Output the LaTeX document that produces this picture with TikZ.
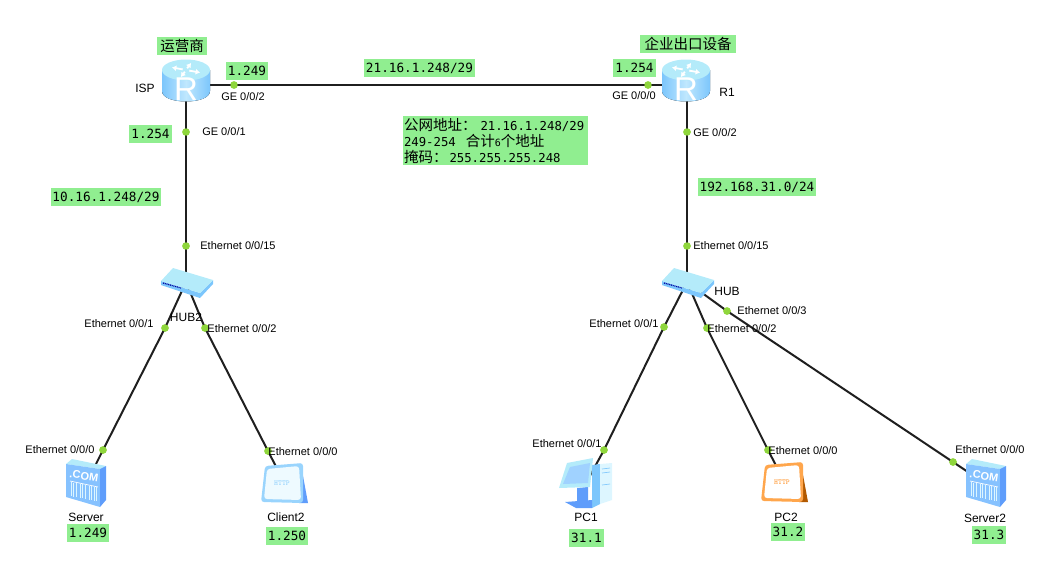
\documentclass[tikz,border=0pt]{standalone}
\usepackage{fontspec}
\setmainfont{Liberation Sans}
\newfontfamily\cjk{Noto Sans CJK SC}
\newfontfamily\tagmono{DejaVu Sans Mono}
\usetikzlibrary{arrows.meta,positioning}
\definecolor{tagGreen}{HTML}{90EE90}
\definecolor{dotGreen}{HTML}{8FD63C}
\definecolor{iconSide}{HTML}{7CC6FC}
\definecolor{iconPale}{HTML}{DDF6FF}
\definecolor{iconTop}{HTML}{B4EBFA}
\definecolor{iconFront}{HTML}{86C2FF}
\definecolor{iconDeep}{HTML}{5F9DFB}
\newcommand{\cn}[1]{{\cjk\fontsize{14.5}{16}\selectfont #1}}
\lineskiplimit=-20pt
\tikzset{
	link/.style={line width=2pt, draw=black!88},
	devpoint/.style={inner sep=0pt, minimum size=0pt},
	portdot/.style={circle, fill=dotGreen, inner sep=0pt, minimum size=7.5pt},
	portlabel/.style={font=\fontsize{11}{12}\selectfont, inner sep=0pt, text=black, yshift=-0.7pt},
	devlabel/.style={font=\fontsize{12}{13}\selectfont, inner sep=0pt, text=black},
	iptag/.style={fill=tagGreen, inner sep=0pt, minimum height=18pt, font=\tagmono\fontsize{12.7}{14}\selectfont},
	pics/routericon/.style={code={
		\fill[left color=iconSide, right color=iconSide, middle color=iconPale!70!iconSide] (-24,-11) -- (-24,10) .. controls (-24,24) and (24,24) .. (24,10) -- (24,-11) -- cycle;
		\fill[fill=iconTop] (0,-11) ellipse[x radius=24, y radius=10.5];
		\foreach \a in {20,110,200,290}
			\draw[white, line width=1.8pt, -{Latex[length=4.5pt,width=6pt]}] ({3.5*cos(\a)},{-11+1.8*sin(\a)}) -- ({15*cos(\a)},{-11+7.5*sin(\a)});
		\node[text=white, font=\fontsize{33}{33}\selectfont, inner sep=0pt] (R) at (0,8) {R};
	}},
	pics/hubicon/.style={code={
		\fill[fill=iconSide] (-25,-1) -- (14,11) -- (27,-2) -- (27,2) -- (14,16) -- (-25,3) -- cycle;
		\fill[fill=iconTop] (-25,-1) -- (-13,-14) -- (27,-2) -- (14,11) -- cycle;
		\draw[blue!60!black, line width=1.2pt, dash pattern=on 1pt off 0.8pt] (-23,1) -- (-5,6);
	}},
	pics/servericon/.style={code={
		\fill[fill=iconTop] (-20,-20) -- (-14,-25) -- (20,-18) -- (14,-15) -- cycle;
		\fill[fill=iconFront] (-20,-20) -- (14,-15) -- (14,23) -- (-20,13) -- cycle;
		\fill[fill=iconDeep] (14,-15) -- (20,-18) -- (20,16) -- (14,23) -- cycle;
		\node[text=white, font=\bfseries\fontsize{11}{12}\selectfont, inner sep=0pt, rotate=-9] (C) at (-2,-8) {.COM};
		\draw[white, line width=0.7pt] (-16,-3) -- (12,3);
		\foreach \x in {-15,-12.5,-10,-6,-3.5,-1,3,5.5,8,10.5}
			\draw[iconPale, line width=0.9pt] (\x,{1+0.2*\x}) -- (\x,{15+0.2*\x});
	}},
	pics/httpicon/.style n args={4}{code={
		\fill[fill=#3] (16,-19) -- (23,19) -- (14,19) -- cycle;
		\fill[fill=#1, rounded corners=3pt] (-20,-18) -- (18,-21) -- (18,19) -- (-24,18) -- cycle;
		\fill[fill=#2, rounded corners=3pt] (-18,-15) -- (14,-18) -- (16,16) -- (-21,15) -- cycle;
		\node[text=#4, font=\ttfamily\bfseries\fontsize{7.5}{8}\selectfont, inner sep=0pt] (H) at (-3,-1) {HTTP};
	}},
	pics/pcicon/.style={code={
		\fill[fill=iconSide] (6,-18) -- (14,-19) -- (14,21) -- (6,25) -- cycle;
		\fill[fill=iconPale] (14,-19) -- (26,-20) -- (26,17) -- (14,21) -- cycle;
		\draw[iconSide, line width=0.6pt] (16,-14) -- (24,-15) (16,-10) -- (24,-11) (16,2) -- (24,1);
		\fill[fill=iconDeep] (-21,19) -- (6,17) -- (6,25) -- (-10,25) -- cycle;
		\fill[fill=iconDeep] (-9,5) -- (2,4) -- (2,18) -- (-9,19) -- cycle;
		\fill[fill=iconTop] (-19,-20) -- (7,-25) -- (4,4) -- (-27,5) -- cycle;
		\fill[fill=iconFront!70!iconPale] (-16,-16) -- (4,-20) -- (2,0) -- (-23,1) -- cycle;
	}}
}

\begin{document}
\begin{tikzpicture}[x=1pt,y=-1pt]
	\useasboundingbox (0,0) rectangle (1038,582);
	\node[devpoint] (isp) at (186,85) {};
	\node[devpoint] (routerA) at (687,85) {};
	\node[devpoint] (hubB) at (186,282) {};
	\node[devpoint] (hubA) at (687,282) {};
	\node[devpoint] (server) at (86,484) {};
	\node[devpoint] (client) at (285,484) {};
	\node[devpoint] (pcA) at (586,483) {};
	\node[devpoint] (pcB) at (785,483) {};
	\node[devpoint] (serverB) at (986,484) {};
	%%%%%
	\node[portdot] (d1) at (234,85) {};
	\node[portdot] (d2) at (648,85) {};
	\node[portdot] (d3) at (186,132) {};
	\node[portdot] (d4) at (186,246) {};
	\node[portdot] (d5) at (687,132) {};
	\node[portdot] (d6) at (687,246) {};
	\node[portdot] (d7) at (165,328) {};
	\node[portdot] (d8) at (205,328) {};
	\node[portdot] (d9) at (103,450) {};
	\node[portdot] (d10) at (268,451) {};
	\node[portdot] (d11) at (664,327) {};
	\node[portdot] (d12) at (707,328) {};
	\node[portdot] (d13) at (727,311) {};
	\node[portdot] (d14) at (604,450) {};
	\node[portdot] (d15) at (768,450) {};
	\node[portdot] (d16) at (953,462) {};
	%%%%%
	\draw[link] (isp) -- (routerA);
	\draw[link] (isp) -- (hubB);
	\draw[link] (routerA) -- (hubA);
	\draw[link] (hubB) -- (d7.center) -- (d9.center) -- (server);
	\draw[link] (hubB) -- (d8.center) -- (d10.center) -- (client);
	\draw[link] (hubA) -- (d11.center) -- (d14.center) -- (pcA);
	\draw[link] (hubA) -- (d12.center) -- (d15.center) -- (pcB);
	\draw[link] (hubA) -- (d13.center) -- (d16.center) -- (serverB);
	\foreach \d in {d1,d2,d3,d4,d5,d6,d7,d8,d9,d10,d11,d12,d13,d14,d15,d16}
		\fill[dotGreen] (\d) circle[radius=3.7pt];
	%%%%%
	\pic (icISP) at (186,81) {routericon};
	\pic (icR) at (686,81) {routericon};
	\pic (icHB) at (186,282) {hubicon};
	\pic (icHA) at (687,282) {hubicon};
	\pic (icS) at (86,484) {servericon};
	\pic (icSB) at (986,484) {servericon};
	\pic (icC) at (285,484) {httpicon={iconSide!70!iconPale}{iconPale!50!white}{iconDeep}{iconSide!70!iconPale}};
	\pic (icPB) at (785,483) {httpicon={orange!70!white}{white}{orange!70!black}{orange!75}};
	\pic (icP) at (586,483) {pcicon};
	%%%%%
	\node[portlabel] (l1) at (243,96) {GE 0/0/2};
	\node[portlabel] (l2) at (224,131) {GE 0/0/1};
	\node[portlabel] (l3) at (634,95) {GE 0/0/0};
	\node[portlabel] (l4) at (715,132) {GE 0/0/2};
	\node[portlabel] (l5) at (238,245) {Ethernet 0/0/15};
	\node[portlabel] (l6) at (731,245) {Ethernet 0/0/15};
	\node[portlabel] (l7) at (119,323) {Ethernet 0/0/1};
	\node[portlabel] (l8) at (242,328) {Ethernet 0/0/2};
	\node[portlabel] (l9) at (60,449) {Ethernet 0/0/0};
	\node[portlabel] (l10) at (303,451) {Ethernet 0/0/0};
	\node[portlabel] (l11) at (624,323) {Ethernet 0/0/1};
	\node[portlabel] (l12) at (742,328) {Ethernet 0/0/2};
	\node[portlabel] (l13) at (772,310) {Ethernet 0/0/3};
	\node[portlabel] (l14) at (567,443) {Ethernet 0/0/1};
	\node[portlabel] (l15) at (803,450) {Ethernet 0/0/0};
	\node[portlabel] (l16) at (990,449) {Ethernet 0/0/0};
	%%%%%
	\node[devlabel] (nISP) at (145,88) {ISP};
	\node[devlabel] (nR) at (727,92) {R1};
	\node[devlabel] (nHB) at (186,317) {HUB2};
	\node[devlabel] (nHA) at (727,291) {HUB};
	\node[devlabel] (nS) at (86,517) {Server};
	\node[devlabel] (nC) at (286,517) {Client2};
	\node[devlabel] (nP) at (586,517) {PC1};
	\node[devlabel] (nPB) at (786,517) {PC2};
	\node[devlabel] (nSB) at (985,518) {Server2};
	%%%%%
	\node[iptag, minimum width=50pt] (t1) at (182,45.5) {\cn{运营商}};
	\node[iptag, minimum width=96pt] (t2) at (688,43.5) {\cn{企业出口设备}};
	\node[iptag, minimum width=42pt] (t3) at (247,71) {1.249};
	\node[iptag, minimum width=43pt] (t4) at (150.5,134) {1.254};
	\node[iptag, minimum width=111pt] (t5) at (419.5,68) {21.16.1.248/29};
	\node[iptag, minimum width=43pt] (t6) at (634.5,68) {1.254};
	\node[iptag, minimum width=110pt] (t7) at (106,197) {10.16.1.248/29};
	\node[iptag, minimum width=118pt] (t8) at (757,187) {192.168.31.0/24};
	\node[iptag, minimum width=42pt] (t9) at (88,533) {1.249};
	\node[iptag, minimum width=42pt] (t10) at (287,535.5) {1.250};
	\node[iptag, minimum width=35pt] (t11) at (586.5,538) {31.1};
	\node[iptag, minimum width=34pt] (t12) at (788,532) {31.2};
	\node[iptag, minimum width=34pt] (t13) at (989,535) {31.3};
	\node[iptag, text width=183pt, inner xsep=1pt, minimum height=49pt, align=left, font=\tagmono\fontsize{12.3}{16}\selectfont] (note) at (495.5,140.5) {\cn{公网地址：}\hspace{4pt}21.16.1.248/29\\249-254\hspace{10pt}\cn{合计}{\fontsize{10}{10}\selectfont 6}\cn{个地址}\\\cn{掩码：}\hspace{2pt}255.255.255.248};
\end{tikzpicture}
\end{document}
